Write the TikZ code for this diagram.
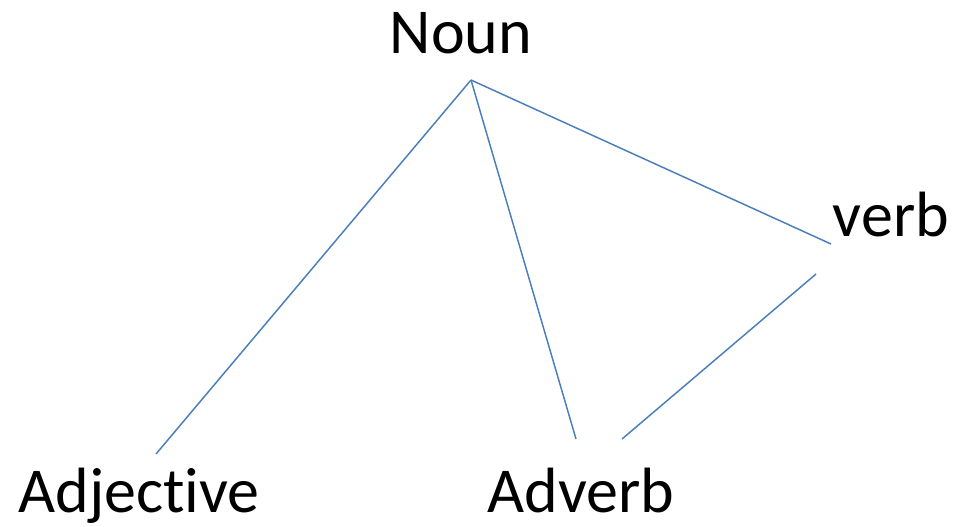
\documentclass[tikz,border=0pt]{standalone}
\usepackage{fontspec}
\setmainfont{Carlito}[Ligatures=NoCommon]
\usetikzlibrary{positioning,calc}
\definecolor{linkblue}{HTML}{4A7EBB}

\begin{document}
\begin{tikzpicture}[x=0.75pt, y=-0.75pt,
		word/.style = {anchor=base, inner sep=0pt, font=\fontsize{48}{56}\selectfont},
		link/.style = {draw=linkblue, line width=1.1pt}]
		\useasboundingbox (0,0) rectangle (956,526);
		\node (noun) at (461,53) [word] {Noun};
		\node (verb) at (891,236) [word] {verb};
		\node (adjective) at (139,512) [word] {Adjective};
		\node (adverb) at (581,512) [word] {Adverb};
		% line ends
		\coordinate (nountip) at (471,80);
		\coordinate (verbin) at (831,244);
		\coordinate (verbout) at (816,274);
		\coordinate (adjtip) at (156,454);
		\coordinate (advleft) at (576,439);
		\coordinate (advright) at (622,439);
		\draw[link] (nountip) -- (adjtip);
		\draw[link] (nountip) -- (advleft);
		\draw[link] (nountip) -- (verbin);
		\draw[link] (verbout) -- (advright);
	\end{tikzpicture}
\end{document}
